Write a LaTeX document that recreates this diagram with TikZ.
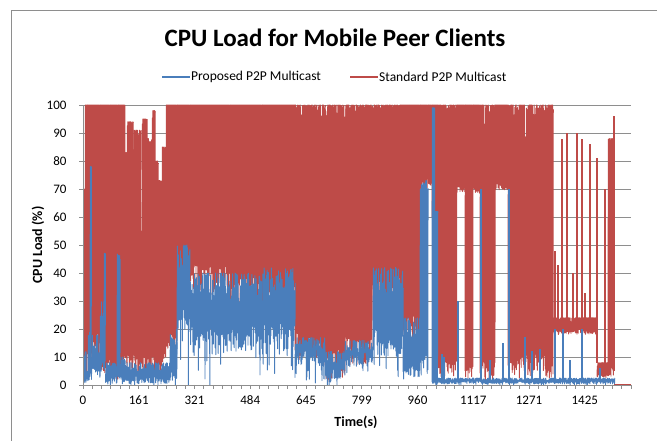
\documentclass[tikz,border=0pt]{standalone}
\usepackage{fontspec}
\setmainfont{Carlito}
\definecolor{seriesblue}{HTML}{4A7EBB}
\definecolor{seriesred}{HTML}{BE4B48}
\definecolor{gridgray}{HTML}{8E8E8E}
\tikzset{
  gridline/.style={gridgray, line width=0.8pt},
  axisline/.style={gridgray, line width=0.8pt},
  redtrace/.style={seriesred, line width=0.9pt, line join=round},
  bluetrace/.style={seriesblue, line width=0.9pt, line join=round},
  redspike/.style={seriesred, line width=1.3pt},
  bluespike/.style={seriesblue, line width=1.1pt},
  ticklabel/.style={font=\fontsize{13}{13}\selectfont},
  legendtext/.style={font=\fontsize{13.5}{13.5}\selectfont, anchor=west, inner sep=1pt},
}
\newcommand{\trace}[4]{%
  \foreach \a/\b/\lo/\hi/\jl/\jh in {#4} {
    \pgfmathtruncatemacro\steps{(\b-\a)/0.6}
    \draw[#1] (\a,\lo) \foreach \k in {0,...,\steps} {
      -- ({\a+0.6*\k},{min(100,max(0,\lo+(rnd-0.5)*\jl-#3*rnd^8*\lo))})
      -- ({\a+0.6*\k+0.3},{min(100,max(0,\hi-rnd^#2*\jh))})
    };
  }%
}
\begin{document}
\begin{tikzpicture}[x=1pt,y=1pt]
  \fill[white] (0,0) rectangle (657,441);
  \useasboundingbox (0,0) rectangle (657,441);
  \draw[gridgray, line width=0.8pt] (11.5,0) -- (11.5,431) -- (657,431);

  \node[font=\bfseries\fontsize{25}{25}\selectfont] (title) at (335,403) {CPU Load for Mobile Peer Clients};

  \coordinate (bluekey) at (162,364);
  \node[legendtext] (bluetext) at (190,364) {Proposed P2P Multicast};
  \draw[seriesblue, line width=2pt] (bluekey) -- (bluetext.west);
  \coordinate (redkey) at (350,364);
  \node[legendtext] (redtext) at (378,364) {Standard P2P Multicast};
  \draw[seriesred, line width=2pt] (redkey) -- (redtext.west);

  \node[font=\bfseries\fontsize{14}{14}\selectfont, rotate=90] (ytitle) at (38,196) {CPU Load (\%)};
  \node[font=\bfseries\fontsize{14}{14}\selectfont] (xtitle) at (356,19) {Time(s)};

  \begin{scope}[shift={(0,56)}, y=2.8pt]
    \foreach \v in {10,20,...,100}
      \draw[gridline] (83,\v) -- (631,\v);
    \foreach \v in {0,10,...,100} {
      \draw[axisline] (79,\v) -- (83,\v);
      \node[ticklabel, anchor=east] (ylab\v) at (70,\v) {\v};
    }
    \foreach \i in {0,...,59}
      \draw[axisline] ({83+9.29*\i},0) -- ++(0,-1.4);
    \foreach \t [count=\i from 0] in {0,161,321,484,645,799,960,1117,1271,1425}
      \node[ticklabel] (xlab\i) at ({83+55.75*\i},-5.4) {\t};

    \begin{scope}
      \clip (83,-1) rectangle (632,100.3);
      \pgfmathsetseed{4242}
      \trace{redtrace}{6}{0}{
        83/85/4/70/4/0, 85/87/3/100/2/0, 87/100/14/100/10/0, 100/110/7/100/6/0,
        110/118/3/100/3/0, 118/125/8/100/6/0, 125/127/10/83/6/0, 127/133/8/94/8/4,
        133/141/8/91/8/8, 141/142/8/55/6/0, 142/147/8/95/8/5, 147/152/8/88/8/6,
        152/155/8/98/8/3, 155/158/8/80/8/4, 158/162/8/73/8/3, 162/166/12/85/8/3,
        166/177/16/100/6/0, 177/190/45/100/10/0, 190/230/38/100/12/0, 230/262/34/100/14/0,
        262/295/32/100/12/0, 295/325/14/100/10/25, 325/345/7/100/12/20, 345/372/13/100/12/25,
        372/400/35/100/12/5, 400/420/20/100/10/0, 420/428/72/100/4/0, 428/432/72/100/2/0,
        432/438/60/100/4/0, 438/457/6/100/6/5, 457/465/70/100/3/0, 465/473/5/100/6/0,
        473/480/70/100/3/0, 480/495/5/100/8/10, 495/508/71/100/3/0, 508/553/8/100/12/15,
        553/597/19/24/2/2, 597/608/3/8/3/2, 608/614/5/88/4/3}
      \foreach \x/\lo/\hi in {555/19/48, 558/19/43, 562/19/88, 567/19/90, 573/19/40,
          577/19/90, 582/19/88, 585/19/33, 590/19/86, 597/8/81, 605/8/70, 614/5/96}
        \draw[redspike] (\x,\lo) -- (\x,\hi);
      \draw[seriesred, line width=1.4pt] (614,0) -- (631,0);

      \trace{bluetrace}{1.5}{1}{
        83/86/2/12/2/2, 86/88/2/5/2/1, 88/90/3/20/4/4, 90/91.5/5/78/4/0,
        91.5/100/6/18/6/8, 100/104/8/30/8/10, 104/105.5/8/47/6/0, 105.5/117/2/8/3/4,
        117/120/4/47/4/6, 120/125/2/10/3/4, 125/170/2/8/3/4, 170/177/4/20/5/6,
        177/190/24/50/8/12, 190/230/19/40/10/12, 230/262/17/40/10/12, 262/295/17/42/12/12,
        295/325/11/17/6/5, 325/345/5/12/6/5, 345/373/10/16/6/5, 373/403/15/42/10/12,
        403/420/5/24/4/10, 420/428/8/73/8/4, 432/434.5/1/99/2/0, 434.5/437.5/1/62/2/0,
        437.5/615/1/2.5/1/1}
      \foreach \x/\lo/\hi in {442/1/11, 444/1/10, 458/1/30, 481/1/70, 490/1/9, 503/1/15,
          509/1/70, 525/1/17, 532/1/12, 540/1/13, 555/1/20, 563/1/20, 570/1/9,
          582/1/20, 600/1/6}
        \draw[bluespike] (\x,\lo) -- (\x,\hi);
    \end{scope}
    \draw[axisline] (83,0) -- (83,100);
    \draw[axisline] (83,0) -- (631,0);
  \end{scope}
\end{tikzpicture}
\end{document}
